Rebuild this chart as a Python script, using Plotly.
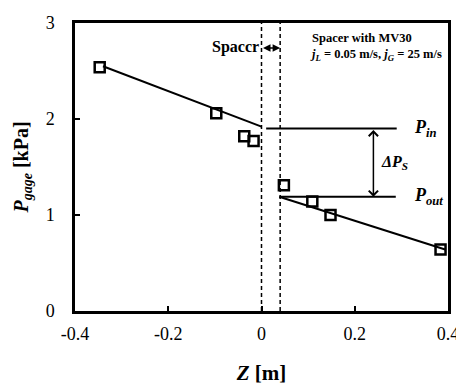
import plotly.graph_objects as go

# ---- data ----
z_upstream = [-0.347, -0.097, -0.037, -0.017]
p_upstream = [2.54, 2.06, 1.82, 1.77]
z_downstream = [0.048, 0.109, 0.148, 0.384]
p_downstream = [1.31, 1.14, 1.00, 0.64]

fit_up_z = [-0.34, 0.0]
fit_up_p = [2.55, 1.92]
fit_dn_z = [0.038, 0.394]
fit_dn_p = [1.19, 0.64]

spacer_z = [0.0, 0.04]
p_in = 1.90
p_out = 1.19
p_in_z = [0.01, 0.29]
p_out_z = [0.04, 0.288]
dp_arrow_z = 0.24

x_ticks = [-0.4, -0.2, 0, 0.2, 0.4]
x_tick_text = ["-0.4", "-0.2", "0", "0.2", "0.4"]
y_ticks = [0, 1, 2, 3]

FONT = "Liberation Serif"
fig = go.Figure()

# spacer dashed lines
for zs in spacer_z:
    fig.add_trace(go.Scatter(x=[zs, zs], y=[0, 3], mode="lines",
                             line=dict(color="black", width=1.5, dash="4px,3px"),
                             showlegend=False, hoverinfo="skip"))

# fit lines
fig.add_trace(go.Scatter(x=fit_up_z, y=fit_up_p, mode="lines",
                         line=dict(color="black", width=2), showlegend=False))
fig.add_trace(go.Scatter(x=fit_dn_z, y=fit_dn_p, mode="lines",
                         line=dict(color="black", width=2), showlegend=False))

# P_in / P_out horizontal lines
fig.add_trace(go.Scatter(x=p_in_z, y=[p_in, p_in], mode="lines",
                         line=dict(color="black", width=2), showlegend=False))
fig.add_trace(go.Scatter(x=p_out_z, y=[p_out, p_out], mode="lines",
                         line=dict(color="black", width=2), showlegend=False))

# data markers
fig.add_trace(go.Scatter(x=z_upstream + z_downstream, y=p_upstream + p_downstream,
                         mode="markers",
                         marker=dict(symbol="square-open", size=10, color="black",
                                     line=dict(width=2.5, color="black")),
                         showlegend=False))

# Delta P arrow
fig.add_annotation(x=dp_arrow_z, y=p_out, ax=dp_arrow_z, ay=p_in,
                   xref="x", yref="y", axref="x", ayref="y", text="",
                   showarrow=True, arrowhead=4, startarrowhead=4, arrowside="end+start",
                   arrowsize=1.2, arrowwidth=1.5, arrowcolor="black")

# spacer arrow
fig.add_annotation(x=spacer_z[1], y=2.74, ax=spacer_z[0], ay=2.74,
                   xref="x", yref="y", axref="x", ayref="y", text="",
                   showarrow=True, arrowhead=2, startarrowhead=2, arrowside="end+start",
                   arrowsize=1, arrowwidth=1.5, arrowcolor="black")

fig.add_annotation(x=-0.002, y=2.75, xref="x", yref="y", text="<b>Spaccr</b>",
                   showarrow=False, xanchor="right", yanchor="middle",
                   font=dict(family=FONT, size=16, color="black"))
fig.add_annotation(x=0.1, y=2.745, xref="x", yref="y",
                   text="<b>Spacer with MV30</b><br><b><i>j</i><sub><i>L</i></sub> = 0.05 m/s, <i>j</i><sub><i>G</i></sub> = 25 m/s</b>",
                   showarrow=False, xanchor="left", yanchor="middle", align="left",
                   font=dict(family=FONT, size=12.5, color="black"))

fig.add_annotation(x=0.322, y=p_in, xref="x", yref="y",
                   text="<b><i>P</i><sub><i>in</i></sub></b>",
                   showarrow=False, xanchor="left", yanchor="middle",
                   font=dict(family=FONT, size=18, color="black"))
fig.add_annotation(x=0.322, y=p_out, xref="x", yref="y",
                   text="<b><i>P</i><sub><i>out</i></sub></b>",
                   showarrow=False, xanchor="left", yanchor="middle",
                   font=dict(family=FONT, size=18, color="black"))
fig.add_annotation(x=0.251, y=1.55, xref="x", yref="y",
                   text="<b><i>ΔP</i><sub><i>S</i></sub></b>",
                   showarrow=False, xanchor="left", yanchor="middle",
                   font=dict(family=FONT, size=16, color="black"))

# page body has a default margin; compensate so the plot lands where the reference has it
fig.update_layout(
    width=456, height=379,
    margin=dict(l=67, r=9, t=5, b=76),
    paper_bgcolor="white", plot_bgcolor="white",
    font=dict(family=FONT, size=18, color="black"),
    showlegend=False,
    xaxis=dict(range=[-0.4, 0.4], tickvals=x_ticks, ticktext=x_tick_text,
               ticks="inside", ticklen=5, tickwidth=1.5, tickcolor="black",
               showline=True, mirror=True, linecolor="black", linewidth=2.5,
               showgrid=False, zeroline=False, ticklabelstandoff=5,
               ticklabeloverflow="allow",
               tickfont=dict(family=FONT, size=18),
               title=dict(text="<b><i>Z</i> [m]</b>", font=dict(family=FONT, size=21), standoff=22)),
    yaxis=dict(range=[0, 3], tickvals=y_ticks,
               ticks="inside", ticklen=5, tickwidth=1.5, tickcolor="black",
               showline=True, mirror=True, linecolor="black", linewidth=2.5,
               showgrid=False, zeroline=False, ticklabelstandoff=14,
               ticklabeloverflow="allow",
               tickfont=dict(family=FONT, size=18),
               title=dict(text="<b><i>P</i><sub><i>gage</i></sub> [kPa]</b>", font=dict(family=FONT, size=20), standoff=12)),
)

fig.write_html("out.html")
